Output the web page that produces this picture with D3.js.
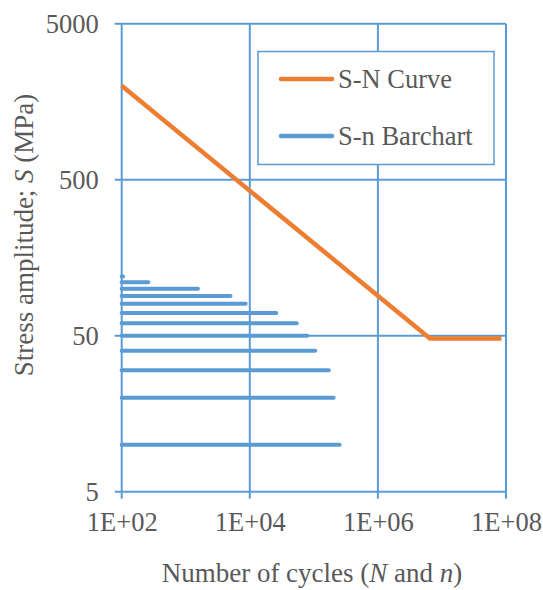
<!DOCTYPE html>
<html>
<head>
<meta charset="utf-8">
<script src="https://cdn.jsdelivr.net/npm/d3@7"></script>
<style>
  body { margin: 0; background: white; }
</style>
</head>
<body>
<div class="chart"></div>
<script>
// S-N curve (N, S)
const curveN = [1e2, 6.5e6, 8.5e7];
const curveS = [2000, 48, 48];

// S-n barchart: stress level and counted cycles
const barS = [10, 20, 30, 40, 50, 60, 70, 80, 90, 100, 110, 120];
const barN = [253000, 204000, 171000, 105000, 79000, 54000, 25900, 8630, 5000, 1550, 260, 105];

const xTicks = [1e2, 1e4, 1e6, 1e8];
const xTickLabels = ['1E+02', '1E+04', '1E+06', '1E+08'];
const yTicks = [5, 50, 500, 5000];
const yTickLabels = ['5', '50', '500', '5000'];

const W = 543, H = 590;
const m = { top: 23.7, right: 37, bottom: 98.3, left: 121.7 };
const w = W - m.left - m.right, h = H - m.top - m.bottom;
const blue = '#5B9BD5', orange = '#ED7D31';
const serif = "'Liberation Serif', 'Times New Roman', Tinos, 'DejaVu Serif', serif";

const svg = d3.select('.chart')
    .append('svg')
        .attr('width', W)
        .attr('height', H);

const g = svg.append('g').attr('transform', 'translate(' + m.left + ',' + m.top + ')');

const x = d3.scaleLog().domain([1e2, 1e8]).range([0, w]);
const y = d3.scaleLog().domain([5, 5000]).range([h, 0]);

// grid + axis lines, ticks stick out 7px
g.selectAll('.vgrid')
    .data(xTicks)
    .enter().append('line')
        .attr('x1', d => x(d)).attr('x2', d => x(d))
        .attr('y1', 0).attr('y2', h + 7)
        .attr('stroke', blue).attr('stroke-width', 2);

g.selectAll('.hgrid')
    .data(yTicks)
    .enter().append('line')
        .attr('x1', -7).attr('x2', w)
        .attr('y1', d => y(d)).attr('y2', d => y(d))
        .attr('stroke', blue).attr('stroke-width', 2);

// tick labels
g.append('g')
    .attr('transform', 'translate(0,' + h + ')')
    .call(d3.axisBottom(x).tickValues(xTicks).tickSize(0).tickPadding(20)
        .tickFormat((d, i) => xTickLabels[i]))
    .call(a => a.select('.domain').remove());

g.append('g')
    .call(d3.axisLeft(y).tickValues(yTicks).tickSize(0).tickPadding(23)
        .tickFormat((d, i) => yTickLabels[i]))
    .call(a => a.select('.domain').remove());

// bars
g.selectAll('.bar')
    .data(barS)
    .enter().append('line')
        .attr('class', 'bar')
        .attr('x1', x(1e2))
        .attr('x2', (d, i) => x(barN[i]))
        .attr('y1', d => y(d)).attr('y2', d => y(d))
        .attr('stroke', blue)
        .attr('stroke-width', 4)
        .attr('stroke-linecap', 'round');

// S-N curve
const line = d3.line()
    .x((d, i) => x(curveN[i]))
    .y(d => y(d));

g.append('path')
    .datum(curveS)
    .attr('d', line)
    .attr('fill', 'none')
    .attr('stroke', orange)
    .attr('stroke-width', 4.5);

// legend
const lg = svg.append('g');
lg.append('rect')
    .attr('x', 258).attr('y', 51.5)
    .attr('width', 236).attr('height', 113)
    .attr('fill', 'white')
    .attr('stroke', blue).attr('stroke-width', 1.5);

const legendItems = [
    { label: 'S-N Curve', color: orange, y: 79 },
    { label: 'S-n Barchart', color: blue, y: 136 }
];
legendItems.forEach(d => {
    lg.append('line')
        .attr('x1', 281).attr('x2', 332)
        .attr('y1', d.y).attr('y2', d.y)
        .attr('stroke', d.color).attr('stroke-width', 4.5)
        .attr('stroke-linecap', 'round');
    lg.append('text')
        .attr('x', 338).attr('y', d.y + 8.5)
        .text(d.label);
});

// axis titles
const xt = svg.append('text')
    .attr('class', 'title')
    .attr('x', 312).attr('y', 582)
    .attr('text-anchor', 'middle');
xt.append('tspan').text('Number of cycles (');
xt.append('tspan').attr('font-style', 'italic').text('N');
xt.append('tspan').text(' and ');
xt.append('tspan').attr('font-style', 'italic').text('n');
xt.append('tspan').text(')');

const yt = svg.append('text')
    .attr('class', 'title')
    .attr('transform', 'translate(33,235) rotate(-90)')
    .attr('text-anchor', 'middle');
yt.append('tspan').text('Stress amplitude; ');
yt.append('tspan').attr('font-style', 'italic').text('S');
yt.append('tspan').text(' (MPa)');

// same font everywhere
svg.selectAll('text')
    .style('font-family', serif)
    .style('font-size', '26.5px')
    .style('fill', '#595959');
svg.selectAll('text.title').style('font-size', '27px');
</script>
</body>
</html>
